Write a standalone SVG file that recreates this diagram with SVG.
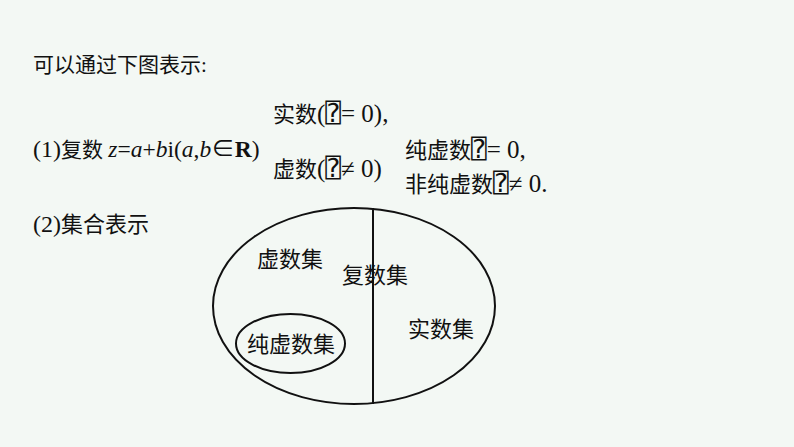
<svg xmlns="http://www.w3.org/2000/svg" width="794" height="447" viewBox="0 0 794 447">
<style>
text{font-family:"Liberation Serif","Noto Sans CJK SC",serif;font-size:21px;fill:#111;}
.l{font-size:24px;}
.m{font-size:25px;}
.i{font-style:italic;}
.b{font-weight:bold;}
.q{font-family:"DejaVu Sans Mono","DejaVu Sans",monospace;font-size:26px;}
.s{font-size:22px;}
.line{fill:none;stroke:#111;stroke-width:2;}
</style>
<rect width="794" height="447" fill="#f3f8f4"/>
<g id="heading">
<text x="33" y="72">可以通过下图表示:</text>
</g>
<g id="formula">
<text x="33" y="157"><tspan class="l">(1)</tspan>复数 <tspan style="font-size:23.5px"><tspan class="i">z</tspan>=<tspan class="i">a</tspan>+<tspan class="i">b</tspan>i(<tspan class="i">a</tspan>,<tspan class="i">b</tspan>∈<tspan class="b">R</tspan>)</tspan></text>
</g>
<g id="branch-real">
<text x="273" y="122" class="s">实数<tspan class="m">(</tspan><tspan class="q">⍰</tspan><tspan class="m">= 0),</tspan></text>
</g>
<g id="branch-imag">
<text x="273" y="177" class="s">虚数<tspan class="m">(</tspan><tspan class="q">⍰</tspan><tspan class="m">≠ 0)</tspan></text>
</g>
<g id="branch-pure">
<text x="405" y="158" class="s">纯虚数<tspan class="q">⍰</tspan><tspan class="m">= 0,</tspan></text>
</g>
<g id="branch-nonpure">
<text x="405" y="192" class="s">非纯虚数<tspan class="q">⍰</tspan><tspan class="m">≠ 0.</tspan></text>
</g>
<g id="set-heading">
<text x="33" y="232" class="s"><tspan class="l">(2)</tspan>集合表示</text>
</g>
<g id="connectors">
<ellipse class="line" cx="354" cy="306" rx="141" ry="98"/>
<line class="line" x1="373" y1="208" x2="373" y2="404"/>
</g>
<g id="complex-set">
<text x="342" y="283" class="s">复数集</text>
</g>
<g id="imag-set">
<text x="257" y="267" class="s">虚数集</text>
</g>
<g id="real-set">
<text x="408" y="337" class="s">实数集</text>
</g>
<g id="pure-imag-set">
<ellipse class="line" cx="290.5" cy="343.5" rx="54.5" ry="29.5"/>
<text x="247" y="352" class="s">纯虚数集</text>
</g>
</svg>
